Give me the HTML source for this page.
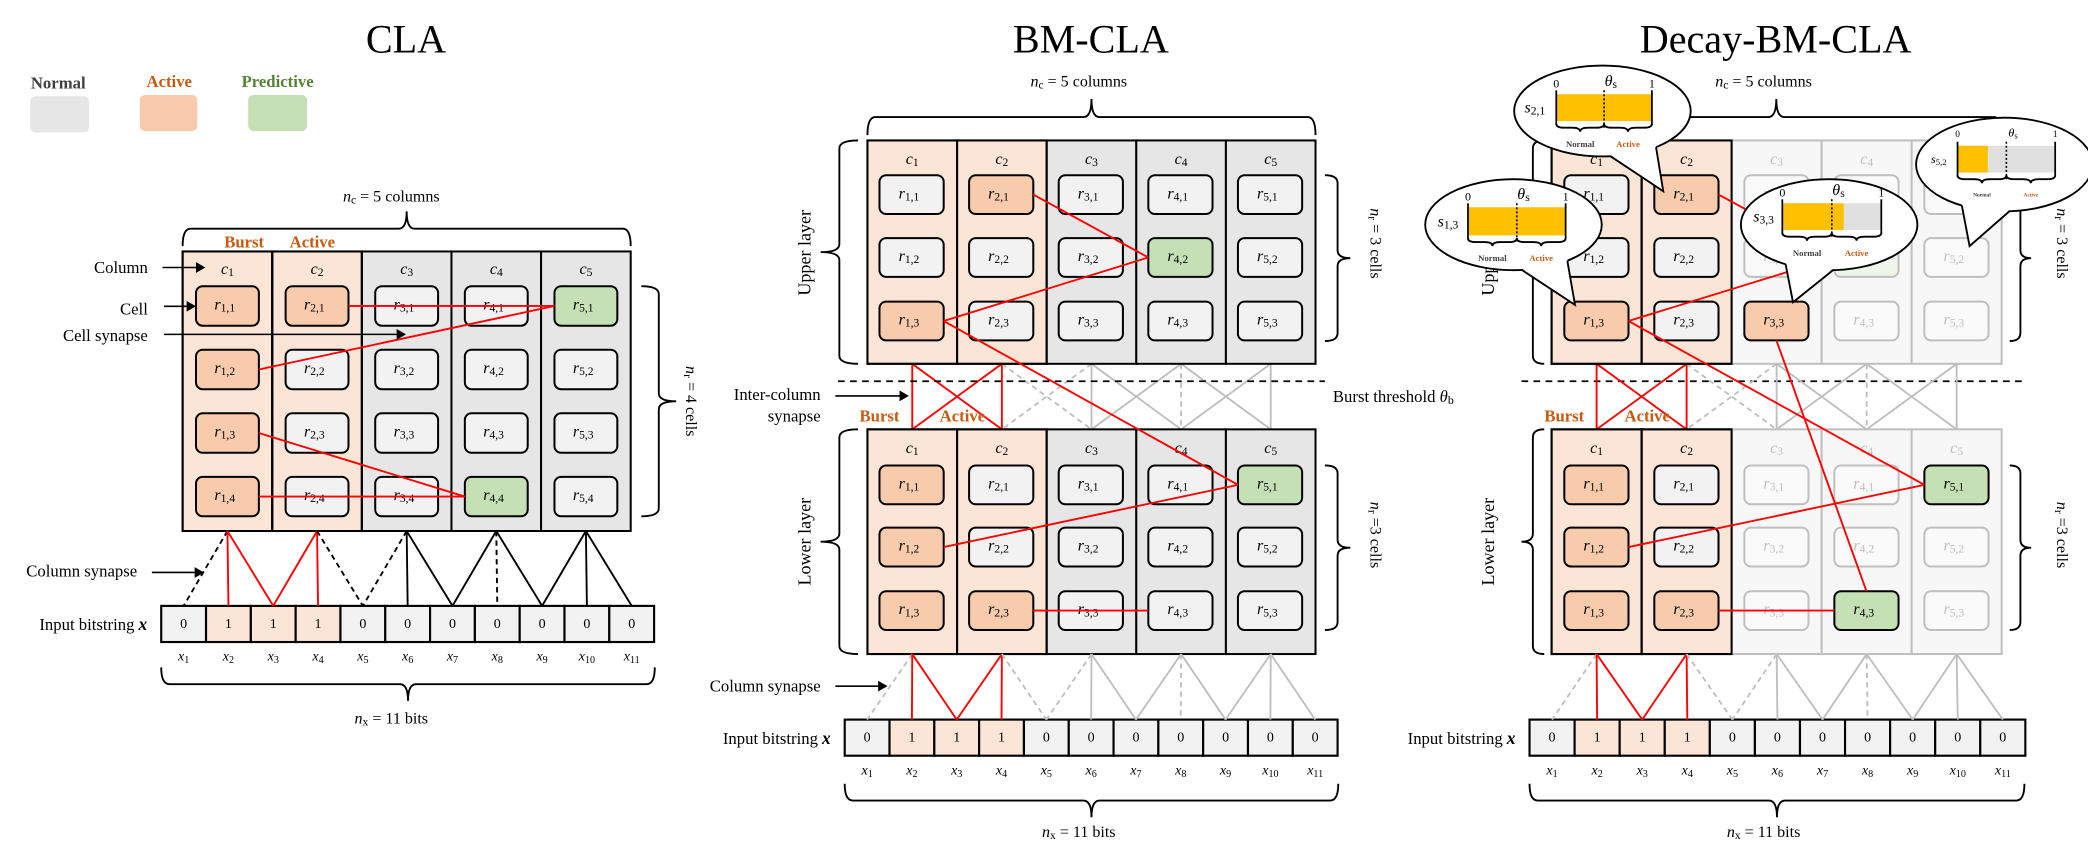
<!DOCTYPE html>
<html><head><meta charset="utf-8"><style>
html,body{margin:0;padding:0;background:#fff;}
svg{display:block;font-family:"Liberation Serif",serif;}
</style></head><body>
<svg id="fig" width="2088" height="848" viewBox="0 0 1560 634" xmlns="http://www.w3.org/2000/svg"></svg>
<script>
// ---- data ----
const bits = [0,1,1,1,0,0,0,0,0,0,0];
const claCells = [['a','a','a','a'],['a','n','n','n'],['n','n','n','n'],['n','n','n','p'],['p','n','n','n']];
const bmUpper = [['n','n','a'],['a','n','n'],['n','n','n'],['n','p','n'],['n','n','n']];
const bmLower = [['a','a','a'],['n','n','a'],['n','n','n'],['n','n','n'],['p','n','n']];
const dcUpper = [['n','n','a'],['a','n','n'],['f','f','a'],['f','pf','f'],['f','f','f']];
const dcLower = [['a','a','a'],['n','n','a'],['f','f','f'],['f','f','p'],['p','f','f']];
const colActive = [1,1,0,0,0];
const colSynDash = [[1,0,0],[0,0,1],[1,0,0],[0,1,0],[0,0,0]];
const sLabels = ['2,1','1,3','3,3','5,2'];
const sValues = [1.0, 1.0, 0.62, 0.31];
const thetaS = 0.5;

const svg = document.getElementById('fig');
const NS = 'http://www.w3.org/2000/svg';
function mk(tag, attrs, name, parent){
  const el = document.createElementNS(NS, tag);
  for (const k in attrs) el.setAttribute(k, attrs[k]);
  
  
  (parent || svg).appendChild(el);
  return el;
}
function txt(x,y,s,opt,name){
  opt = opt || {};
  const t = mk('text',{x:x,y:y,'text-anchor':opt.anchor||'middle','dominant-baseline':'central','font-size':opt.size||12,fill:opt.fill||'#000','font-weight':opt.weight||'normal','font-style':opt.style||'normal'}, name);
  if (opt.rot) t.setAttribute('transform','rotate('+opt.rot+' '+x+' '+y+')');
  t.textContent = s;
  return t;
}
function sub(x,y,main,subs,opt,name){
  opt = opt||{};
  const t = mk('text',{x:x,y:y,'text-anchor':opt.anchor||'middle','dominant-baseline':'central','font-size':opt.size||12,fill:opt.fill||'#000'}, name);
  if (opt.rot) t.setAttribute('transform','rotate('+opt.rot+' '+x+' '+y+')');
  if (opt.pre){ const p = document.createElementNS(NS,'tspan'); p.textContent = opt.pre; t.appendChild(p); }
  const a = document.createElementNS(NS,'tspan'); a.setAttribute('font-style','italic'); a.textContent = main; t.appendChild(a);
  const b = document.createElementNS(NS,'tspan'); b.setAttribute('font-size',(opt.size||12)*0.72); b.setAttribute('dy',(opt.size||12)*0.25); b.textContent = subs; t.appendChild(b);
  if (opt.rest){ const c = document.createElementNS(NS,'tspan'); c.setAttribute('dy',-(opt.size||12)*0.25); c.textContent = opt.rest; t.appendChild(c); }
  return t;
}
function line(x1,y1,x2,y2,col,w,dash,name){
  const l = mk('line',{x1:x1,y1:y1,x2:x2,y2:y2,stroke:col,'stroke-width':w||1.3}, name);
  if (dash) l.setAttribute('stroke-dasharray',dash);
  return l;
}
function arrow(x1,y,x2,name){
  line(x1,y,x2-6,y,'#000',1.2,null,name+'-shaft');
  mk('polygon',{points:(x2-7)+','+(y-4)+' '+x2+','+y+' '+(x2-7)+','+(y+4),fill:'#000'}, name+'-head');
}
function hbrace(x1,x2,y,h,down,name){
  const m=(x1+x2)/2, r=6, s=down?-1:1;
  const yb=y+s*h, ym=y+s*h/2;
  const d='M'+x1+' '+yb+' Q'+x1+' '+ym+' '+(x1+r)+' '+ym+' L'+(m-r)+' '+ym+' Q'+m+' '+ym+' '+m+' '+y+' Q'+m+' '+ym+' '+(m+r)+' '+ym+' L'+(x2-r)+' '+ym+' Q'+x2+' '+ym+' '+x2+' '+yb;
  mk('path',{d:d,fill:'none',stroke:'#000','stroke-width':1.4}, name);
}
function vbrace(x,y1,y2,w,left,name){
  const m=(y1+y2)/2, r=6, s=left?1:-1;
  const xb=x+s*w, xm=x+s*w/2;
  const d='M'+xb+' '+y1+' Q'+xm+' '+y1+' '+xm+' '+(y1+r)+' L'+xm+' '+(m-r)+' Q'+xm+' '+m+' '+x+' '+m+' Q'+xm+' '+m+' '+xm+' '+(m+r)+' L'+xm+' '+(y2-r)+' Q'+xm+' '+y2+' '+xb+' '+y2;
  mk('path',{d:d,fill:'none',stroke:'#000','stroke-width':1.4}, name);
}
const FILL = {a:'#f8cbad',n:'#f2f2f2',p:'#c5e0b4',f:'#fafafa',pf:'#eef5ea'};
function grid(P, cells, colBg, faded, name){
  const n = cells.length;
  for (let c=0;c<n;c++){
    const x = P.x0 + c*P.cw;
    const fd = faded && !colBg[c];
    mk('rect',{x:x,y:P.top,width:P.cw,height:P.bot-P.top,fill:colBg[c]?'#fbe5d6':(fd?'#f7f7f7':'#e7e6e6'),stroke:fd?'#bfbfbf':'#000','stroke-width':1.5}, name+'-column-'+(c+1));
  }
  for (let c=0;c<n;c++){
    if (colBg[c]){
      const x = P.x0 + c*P.cw;
      mk('rect',{x:x,y:P.top,width:P.cw,height:P.bot-P.top,fill:'none',stroke:'#000','stroke-width':1.5}, name+'-column-border-'+(c+1));
    }
  }
  for (let c=0;c<n;c++){
    const x = P.x0 + c*P.cw;
    const fd = faded && !colBg[c];
    sub(x+P.cw/2, P.hy, 'c', String(c+1), {size:12, fill:fd?'#bfbfbf':'#000'}, name+'-header-c'+(c+1));
    for (let r=0;r<cells[c].length;r++){
      const st = cells[c][r];
      const isF = (st==='f'||st==='pf');
      const cx = x+P.co, cy = P.rows[r];
      mk('rect',{x:cx,y:cy,width:P.w,height:P.h,rx:5,fill:FILL[st],stroke:isF?'#bfbfbf':'#000','stroke-width':1.5}, name+'-cell-r'+(c+1)+'-'+(r+1));
      sub(cx+P.w/2-2, cy+P.h/2-1, 'r', (c+1)+','+(r+1), {size:12, fill:isF?'#bfbfbf':'#000'}, name+'-cell-label-r'+(c+1)+'-'+(r+1));
    }
  }
}
function cellR(P,c,r){ return [P.x0+(c-1)*P.cw+P.co+P.w, P.rows[r-1]+P.h/2]; }
function cellL(P,c,r){ return [P.x0+(c-1)*P.cw+P.co, P.rows[r-1]+P.h/2]; }
function red(a,b,name){ line(a[0],a[1],b[0],b[1],'#ff0000',1.4,null,name); }
function inputs(x0,bw,y,h,name){
  for (let i=0;i<bits.length;i++){
    const x = x0+i*bw;
    mk('rect',{x:x,y:y,width:bw,height:h,fill:bits[i]?'#fbe5d6':'#f2f2f2',stroke:'#000','stroke-width':1.6}, name+'-bit-x'+(i+1));
    txt(x+bw/2,y+h/2,String(bits[i]),{size:10.5}, name+'-bit-value-x'+(i+1));
    sub(x+bw/2,y+h+11,'x',String(i+1),{size:10.5}, name+'-bit-label-x'+(i+1));
  }
}
function colSyn(P, x0, bw, yTop, yBot, gray, name){
  for (let c=0;c<5;c++){
    const cx = P.x0 + c*P.cw + P.cw/2;
    for (let j=0;j<3;j++){
      const i = 2*c+j;
      const bx = x0 + i*bw + bw/2;
      const dash = colSynDash[c][j];
      const isRed = colActive[c] && bits[i] && !dash;
      const col = isRed ? '#ff0000' : (gray ? '#bfbfbf' : '#000');
      line(cx,yTop,bx,yBot,col,1.4,dash?'4,3':null, name+'-column-synapse-c'+(c+1)+'-x'+(i+1));
    }
  }
}
function interSyn(P, yTop, yBot, name){
  for (let c=0;c<5;c++){
    for (const d of [-1,0,1]){
      const t = c+d; if (t<0||t>4) continue;
      const x1 = P.x0 + c*P.cw + P.cw/2, x2 = P.x0 + t*P.cw + P.cw/2;
      const isRed = colActive[c] && colActive[t];
      const dashed = (c===1&&t===2)||(c===2&&t===1)||(c===3&&t===3);
      line(x1,yTop,x2,yBot,isRed?'#ff0000':'#bfbfbf',1.4,(!isRed&&dashed)?'4,3':null, name+'-inter-column-synapse-'+(c+1)+'-'+(t+1));
    }
  }
}

// ===== titles =====
txt(303,29,'CLA',{size:30},'cla-title');
txt(815,29,'BM-CLA',{size:30},'bm-cla-title');
txt(1327,29,'Decay-BM-CLA',{size:30},'decay-bm-cla-title');

// ===== legend =====
txt(43,62,'Normal',{size:12.5,weight:'bold',fill:'#404040'},'legend-normal-label');
mk('rect',{x:22,y:72,width:44,height:27,rx:4,fill:'#e7e6e6'},'legend-normal-swatch');
txt(126,61,'Active',{size:12.5,weight:'bold',fill:'#c55a11'},'legend-active-label');
mk('rect',{x:104,y:71,width:43,height:27,rx:4,fill:'#f8cbad'},'legend-active-swatch');
txt(207,61,'Predictive',{size:12.5,weight:'bold',fill:'#548235'},'legend-predictive-label');
mk('rect',{x:185,y:71,width:44,height:27,rx:4,fill:'#c5e0b4'},'legend-predictive-swatch');

// ===== CLA =====
const PC = {x0:136,cw:67,top:188,bot:397,hy:201,rows:[214,261.5,309,356.5],h:29.5,co:10,w:47};
grid(PC, claCells, colActive, false, 'cla');
red(cellR(PC,2,1), cellL(PC,5,1), 'cla-synapse-r21-r51');
red(cellL(PC,5,1), cellR(PC,1,2), 'cla-synapse-r51-r12');
red(cellR(PC,1,3), cellL(PC,4,4), 'cla-synapse-r13-r44');
red(cellR(PC,1,4), cellL(PC,4,4), 'cla-synapse-r14-r44');
txt(182,181,'Burst',{size:12.5,weight:'bold',fill:'#c55a11'},'cla-burst-label');
txt(233,181,'Active',{size:12.5,weight:'bold',fill:'#c55a11'},'cla-active-label');
sub(292,147,'n','c',{size:12,rest:'  = 5 columns'},'cla-nc-label');
hbrace(136,471,158,26,false,'cla-columns-brace');
vbrace(505,214,386,26,false,'cla-rows-brace');
sub(516,300,'n','r',{size:12,rot:90,rest:' = 4 cells'},'cla-nr-label');
txt(110,200,'Column',{size:12.5,anchor:'end'},'cla-column-annotation');
arrow(121,200,153,'cla-column-arrow');
txt(110,231,'Cell',{size:12.5,anchor:'end'},'cla-cell-annotation');
arrow(122,229,146,'cla-cell-arrow');
txt(110,251,'Cell synapse',{size:12.5,anchor:'end'},'cla-cell-synapse-annotation');
arrow(122,250,303,'cla-cell-synapse-arrow');
txt(102,427,'Column synapse',{size:12.5,anchor:'end'},'cla-column-synapse-annotation');
arrow(113,428,152,'cla-column-synapse-arrow');
inputs(120,33.5,453,27,'cla-input');
txt(100,467,'Input bitstring',{size:12.5,anchor:'end'},'cla-input-label');
colSyn(PC,120,33.5,397,453,false,'cla');
hbrace(120,489,524,25,true,'cla-bits-brace');
sub(292,537,'n','x',{size:12,rest:'  = 11 bits'},'cla-nx-label');

// ===== BM-CLA =====
const PU = {x0:648,cw:67,top:105,bot:272,hy:119,rows:[131,178,225.5],h:29,co:9,w:48};
const PL = {x0:648,cw:67,top:321,bot:489,hy:335,rows:[348,394.5,442],h:29,co:9,w:48};
interSyn(PU,272,321,'bm');
grid(PU, bmUpper, colActive, false, 'bm-upper');
grid(PL, bmLower, colActive, false, 'bm-lower');
red(cellR(PU,2,1), cellL(PU,4,2), 'bm-synapse-r21-r42');
red(cellL(PU,4,2), cellR(PU,1,3), 'bm-synapse-r42-r13');
red(cellR(PU,1,3), cellL(PL,5,1), 'bm-synapse-r13-lower-r51');
red(cellR(PL,1,2), cellL(PL,5,1), 'bm-synapse-r12-r51');
red(cellR(PL,2,3), cellL(PL,4,3), 'bm-synapse-r23-r43');
line(626,285,990,285,'#000',1.3,'5,4','bm-burst-threshold-line');
line(1137,285,1515,285,'#000',1.3,'5,4','decay-burst-threshold-line');
sub(996,296,'θ','b',{size:12.5,anchor:'start',pre:'Burst threshold '},'burst-threshold-label');
txt(613,295,'Inter-column',{size:12.5,anchor:'end'},'bm-inter-column-annotation');
txt(613,311,'synapse',{size:12.5,anchor:'end'},'bm-inter-column-annotation-2');
arrow(624,296,679,'bm-inter-column-arrow');
txt(657,311,'Burst',{size:12.5,weight:'bold',fill:'#c55a11'},'bm-burst-label');
txt(719,311,'Active',{size:12.5,weight:'bold',fill:'#c55a11'},'bm-active-label');
sub(806,61,'n','c',{size:12,rest:'  = 5 columns'},'bm-nc-label');
hbrace(648,983,74,27,false,'bm-columns-brace');
vbrace(613,105,272,28,true,'bm-upper-layer-brace');
vbrace(613,321,489,28,true,'bm-lower-layer-brace');
txt(601,189,'Upper layer',{size:13.5,rot:-90},'bm-upper-layer-label');
txt(601,405,'Lower layer',{size:13.5,rot:-90},'bm-lower-layer-label');
vbrace(1009,131,255,19,false,'bm-upper-rows-brace');
vbrace(1009,348,471,19,false,'bm-lower-rows-brace');
sub(1028,182,'n','r',{size:12,rot:90,rest:' = 3 cells'},'bm-upper-nr-label');
sub(1028,400,'n','r',{size:12,rot:90,rest:' =3 cells'},'bm-lower-nr-label');
txt(613,513,'Column synapse',{size:12.5,anchor:'end'},'bm-column-synapse-annotation');
arrow(624,513,663,'bm-column-synapse-arrow');
inputs(631,33.5,538,27,'bm-input');
txt(611,552,'Input bitstring',{size:12.5,anchor:'end'},'bm-input-label');
colSyn(PL,631,33.5,489,538,true,'bm');
hbrace(631,1000,611,25,true,'bm-bits-brace');
sub(806,622,'n','x',{size:12,rest:'  = 11 bits'},'bm-nx-label');

// ===== Decay-BM-CLA =====
const DU = {x0:1159.5,cw:67.3,top:105,bot:272,hy:119,rows:[131,178,225.5],h:29,co:9.5,w:48};
const DL = {x0:1159.5,cw:67.3,top:321,bot:489,hy:335,rows:[348,394.5,442],h:29,co:9.5,w:48};
interSyn(DU,272,321,'decay');
grid(DU, dcUpper, colActive, true, 'decay-upper');
grid(DL, dcLower, colActive, true, 'decay-lower');
red(cellR(DU,2,1), cellL(DU,4,2), 'decay-synapse-r21-r42');
red(cellL(DU,4,2), cellR(DU,1,3), 'decay-synapse-r42-r13');
red(cellR(DU,1,3), cellL(DL,5,1), 'decay-synapse-r13-lower-r51');
red([DU.x0+2*DU.cw+DU.co+DU.w/2, DU.rows[2]+DU.h], [DL.x0+3*DL.cw+DL.co+DL.w/2, DL.rows[2]], 'decay-synapse-r33-lower-r43');
red(cellR(DL,1,2), cellL(DL,5,1), 'decay-synapse-r12-r51');
red(cellR(DL,2,3), cellL(DL,4,3), 'decay-synapse-r23-r43');
txt(1169,311,'Burst',{size:12.5,weight:'bold',fill:'#c55a11'},'decay-burst-label');
txt(1231,311,'Active',{size:12.5,weight:'bold',fill:'#c55a11'},'decay-active-label');
sub(1318,61,'n','c',{size:12,rest:'  = 5 columns'},'decay-nc-label');
hbrace(1159,1496,74,27,false,'decay-columns-brace');
vbrace(1137,105,272,17,true,'decay-upper-layer-brace');
vbrace(1137,321,489,17,true,'decay-lower-layer-brace');
txt(1112,189,'Upper layer',{size:13.5,rot:-90},'decay-upper-layer-label');
txt(1112,405,'Lower layer',{size:13.5,rot:-90},'decay-lower-layer-label');
vbrace(1518,131,255,16,false,'decay-upper-rows-brace');
vbrace(1518,348,471,16,false,'decay-lower-rows-brace');
sub(1541,182,'n','r',{size:12,rot:90,rest:' = 3 cells'},'decay-upper-nr-label');
sub(1541,400,'n','r',{size:12,rot:90,rest:' =3 cells'},'decay-lower-nr-label');
inputs(1143,33.7,538,27,'decay-input');
txt(1123,552,'Input bitstring',{size:12.5,anchor:'end'},'decay-input-label');
colSyn(DL,1143,33.7,489,538,true,'decay');
hbrace(1143,1513,611,25,true,'decay-bits-brace');
sub(1318,622,'n','x',{size:12,rest:'  = 11 bits'},'decay-nx-label');
txt(103,467,'x',{size:13,style:'italic',weight:'bold',anchor:'start'},'cla-input-x');
txt(614,552,'x',{size:13,style:'italic',weight:'bold',anchor:'start'},'bm-input-x');
txt(1126,552,'x',{size:13,style:'italic',weight:'bold',anchor:'start'},'decay-input-x');

// ===== callouts =====
const bubbles = [
  {cx:1197.5,cy:83,rx:66,ry:34,tx:1243,ty:143,bx:1163,bw:71.5,by:70.5,bh:20,sl:1147,small:false},
  {cx:1131,cy:168,rx:66,ry:34,tx:1177,ty:228,bx:1097,bw:73,by:155,bh:21,sl:1082,small:false},
  {cx:1367,cy:168,rx:66,ry:34,tx:1340,ty:226,bx:1332,bw:74,by:152,bh:20,sl:1318,small:false},
  {cx:1498,cy:123,rx:66,ry:35,tx:1472,ty:184,bx:1463,bw:73,by:109,bh:20,sl:1449,small:true}
];
bubbles.forEach((B,i)=>{
  const nm = 'callout-s'+sLabels[i].replace(',','');
  const ang = Math.atan2((B.ty-B.cy)/B.ry,(B.tx-B.cx)/B.rx);
  const p1 = [B.cx+B.rx*Math.cos(ang-0.28), B.cy+B.ry*Math.sin(ang-0.28)];
  const p2 = [B.cx+B.rx*Math.cos(ang+0.28), B.cy+B.ry*Math.sin(ang+0.28)];
  mk('ellipse',{cx:B.cx,cy:B.cy,rx:B.rx,ry:B.ry,fill:'#fff',stroke:'#000','stroke-width':1.4}, nm+'-bubble');
  const q1 = [B.cx+(B.rx-2)*Math.cos(ang-0.3), B.cy+(B.ry-2)*Math.sin(ang-0.3)];
  const q2 = [B.cx+(B.rx-2)*Math.cos(ang+0.3), B.cy+(B.ry-2)*Math.sin(ang+0.3)];
  mk('polygon',{points:q1.join(',')+' '+B.tx+','+B.ty+' '+q2.join(','),fill:'#fff'}, nm+'-tail-fill');
  mk('polyline',{points:p1.join(',')+' '+B.tx+','+B.ty+' '+p2.join(','),fill:'none',stroke:'#000','stroke-width':1.4}, nm+'-tail');
  const v = sValues[i];
  mk('rect',{x:B.bx,y:B.by,width:B.bw,height:B.bh,fill:'#e0e0e0'}, nm+'-bar-track');
  mk('rect',{x:B.bx,y:B.by,width:B.bw*v,height:B.bh,fill:'#ffc000'}, nm+'-bar-value');
  line(B.bx,B.by-3,B.bx,B.by+B.bh+3,'#000',1.3,null,nm+'-bar-start');
  line(B.bx+B.bw,B.by-3,B.bx+B.bw,B.by+B.bh+3,'#000',1.3,null,nm+'-bar-end');
  const tx = B.bx+B.bw*thetaS;
  line(tx,B.by-3,tx,B.by+B.bh+5,'#000',1.2,'1.5,1.5',nm+'-theta-line');
  const fs = B.small?7:9;
  txt(B.bx,B.by-8,'0',{size:fs},nm+'-zero-label');
  txt(B.bx+B.bw,B.by-8,'1',{size:fs},nm+'-one-label');
  sub(tx+5,B.by-10,'θ','s',{size:B.small?9:12},nm+'-theta-label');
  sub(B.sl,B.by+B.bh/2,'s',sLabels[i],{size:B.small?9:12},nm+'-name');
  const yb = B.by+B.bh+2;
  hbrace(B.bx,tx,yb+6,6,true,nm+'-normal-brace');
  hbrace(tx,B.bx+B.bw,yb+6,6,true,nm+'-active-brace');
  txt((B.bx+tx)/2,yb+15,'Normal',{size:B.small?4:6.5,weight:'bold',fill:'#404040'},nm+'-normal-label');
  txt((tx+B.bx+B.bw)/2,yb+15,'Active',{size:B.small?4:6.5,weight:'bold',fill:'#c55a11'},nm+'-active-label');
});
</script>
</body></html>
